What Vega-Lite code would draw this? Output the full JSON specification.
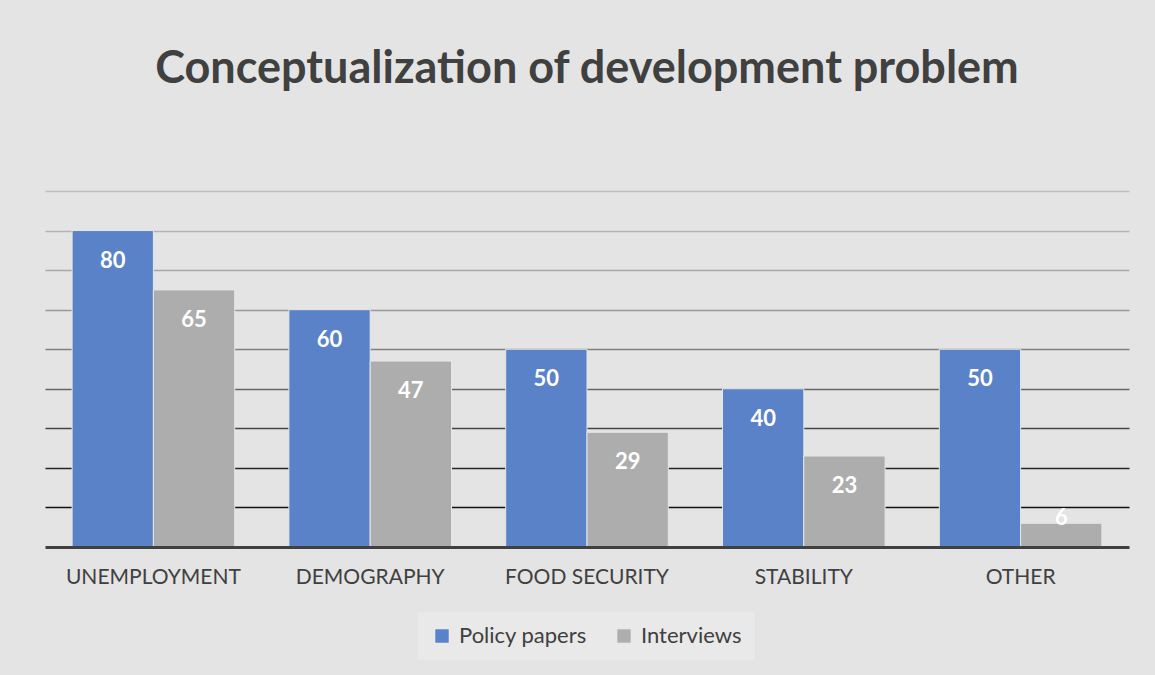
{
  "$schema": "https://vega.github.io/schema/vega-lite/v6.json",
  "width": 1084,
  "height": 356,
  "autosize": {"type": "none"},
  "padding": {"left": 45, "top": 191, "right": 26, "bottom": 128},
  "background": "#e4e4e4",
  "title": {
    "text": "Conceptualization of development problem",
    "font": "Lato",
    "fontSize": 45,
    "fontWeight": "bold",
    "color": "#404040",
    "offset": 99,
    "anchor": "middle",
    "frame": "group"
  },
  "config": {"view": {"stroke": null}},
  "data": {
    "values": [
      {"category": "UNEMPLOYMENT", "series": "Policy papers", "value": 80},
      {"category": "UNEMPLOYMENT", "series": "Interviews", "value": 65},
      {"category": "DEMOGRAPHY", "series": "Policy papers", "value": 60},
      {"category": "DEMOGRAPHY", "series": "Interviews", "value": 47},
      {"category": "FOOD SECURITY", "series": "Policy papers", "value": 50},
      {"category": "FOOD SECURITY", "series": "Interviews", "value": 29},
      {"category": "STABILITY", "series": "Policy papers", "value": 40},
      {"category": "STABILITY", "series": "Interviews", "value": 23},
      {"category": "OTHER", "series": "Policy papers", "value": 50},
      {"category": "OTHER", "series": "Interviews", "value": 6}
    ]
  },
  "encoding": {
    "x": {
      "field": "category",
      "type": "nominal",
      "sort": null,
      "scale": {"paddingInner": 0.25, "paddingOuter": 0.125},
      "axis": {
        "title": null,
        "labelFont": "Lato",
        "labelFontSize": 21,
        "labelColor": "#404040",
        "labelPadding": 30,
        "labelBaseline": "middle",
        "labelAngle": 0,
        "ticks": false,
        "domainColor": "#404040",
        "domainWidth": 3,
        "zindex": 2
      }
    },
    "xOffset": {
      "field": "series",
      "type": "nominal",
      "sort": ["Policy papers", "Interviews"],
      "scale": {"paddingInner": 0, "paddingOuter": 0}
    },
    "y": {
      "field": "value",
      "type": "quantitative",
      "scale": {"domain": [0, 90]},
      "axis": {
        "title": null,
        "labels": false,
        "ticks": false,
        "domain": false,
        "values": [10, 20, 30, 40, 50, 60, 70, 80, 90],
        "gridWidth": 1.5,
        "gridColor": {
          "condition": [
            {"test": "datum.value <= 10", "value": "#111111"},
            {"test": "datum.value <= 20", "value": "#262626"},
            {"test": "datum.value <= 30", "value": "#444444"},
            {"test": "datum.value <= 40", "value": "#666666"},
            {"test": "datum.value <= 50", "value": "#808080"},
            {"test": "datum.value <= 60", "value": "#999999"},
            {"test": "datum.value <= 70", "value": "#a8a8a8"},
            {"test": "datum.value <= 80", "value": "#b3b3b3"}
          ],
          "value": "#bdbdbd"
        }
      }
    }
  },
  "layer": [
    {
      "mark": {"type": "bar", "stroke": "#e6e6e6", "strokeWidth": 1},
      "encoding": {
        "color": {
          "field": "series",
          "type": "nominal",
          "sort": ["Policy papers", "Interviews"],
          "scale": {"domain": ["Policy papers", "Interviews"], "range": ["#5a82c8", "#adadad"]},
          "legend": {
            "orient": "none",
            "legendX": 373,
            "legendY": 421,
            "direction": "horizontal",
            "title": null,
            "fillColor": "#e9e9e9",
            "padding": 13,
            "symbolType": "square",
            "symbolSize": 180,
            "symbolStrokeWidth": 0,
            "labelFont": "Lato",
            "labelFontSize": 22,
            "labelColor": "#404040",
            "labelOffset": 6,
            "columnPadding": 26
          }
        }
      }
    },
    {
      "transform": [{"filter": "datum.value >= 10"}],
      "mark": {"type": "text", "color": "white", "font": "Lato", "fontSize": 22, "fontWeight": "bold", "baseline": "middle", "dy": 30},
      "encoding": {"text": {"field": "value", "type": "quantitative"}}
    },
    {
      "transform": [{"filter": "datum.value < 10"}],
      "mark": {"type": "text", "color": "white", "font": "Lato", "fontSize": 22, "fontWeight": "bold", "baseline": "middle", "dy": -5},
      "encoding": {"text": {"field": "value", "type": "quantitative"}}
    }
  ]
}
